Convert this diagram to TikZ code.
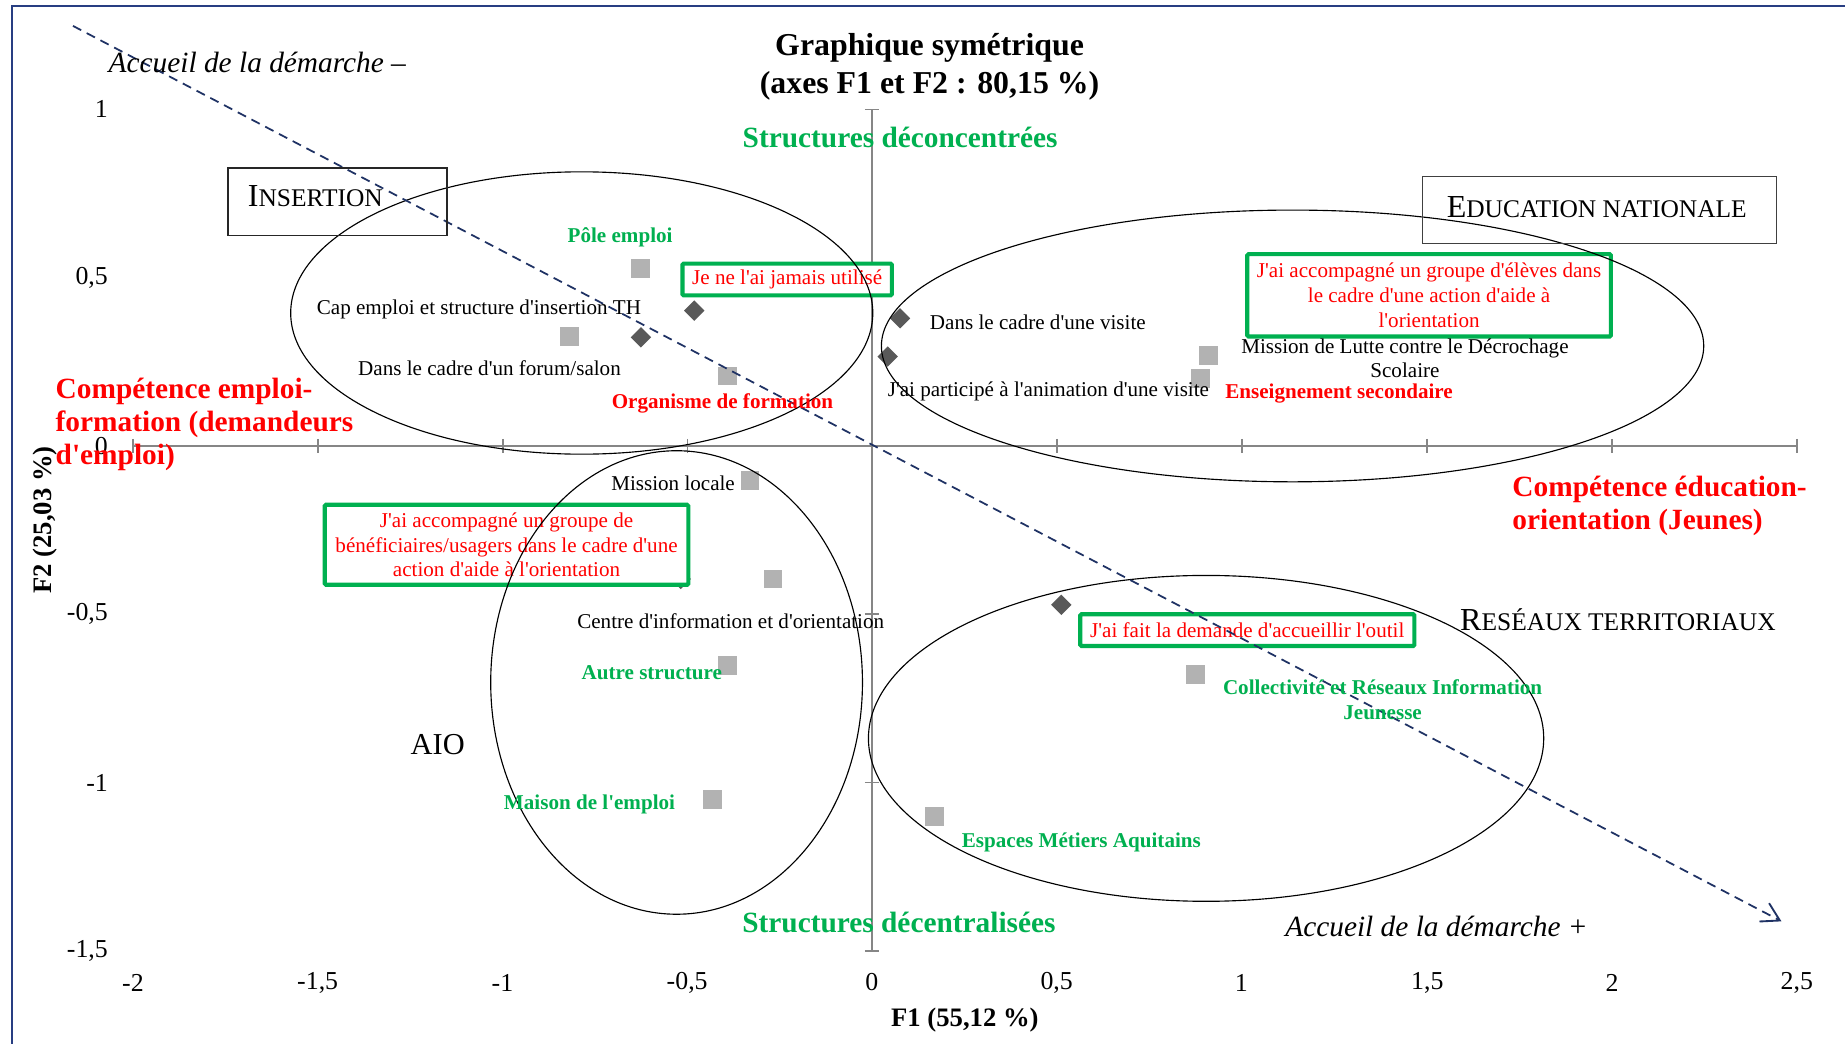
\documentclass[tikz,border=0pt]{standalone}
\usepackage{fontspec}
\setmainfont{Liberation Serif}[Ligatures=TeXOff]
\usetikzlibrary{arrows.meta}
\definecolor{xgreen}{RGB}{0,176,80}
\definecolor{xred}{RGB}{255,0,0}
\definecolor{xnavy}{RGB}{31,50,100}
\definecolor{xframe}{RGB}{40,62,130}
\definecolor{xaxis}{RGB}{134,134,134}
\definecolor{xsq}{RGB}{178,178,178}
\definecolor{xdia}{RGB}{89,89,89}
\newcommand\lblfont{\fontsize{10.2}{11.9}\selectfont}
\newcommand\bigfont{\fontsize{14.2}{15.9}\selectfont}
\newcommand\tickfont{\fontsize{12.5}{14}\selectfont}
\newcommand\capA{\fontsize{15.5}{18}\selectfont}
\newcommand\capB{\fontsize{12.3}{15}\selectfont}
\begin{document}
\begin{tikzpicture}[x=0.02cm,y=-0.02cm,
  axisline/.style={draw=xaxis,line width=0.85pt},
  ell/.style={draw=black,line width=0.55pt},
  sq/.style={rectangle,fill=xsq,minimum size=0.32cm,inner sep=0pt},
  dia/.style={rectangle,fill=xdia,rotate=45,minimum size=0.245cm,inner sep=0pt},
  blk/.style={font=\lblfont,text=black,inner sep=0pt,align=center},
  grn/.style={font=\lblfont\bfseries,text=xgreen,inner sep=0pt,align=center},
  rdl/.style={font=\lblfont\bfseries,text=xred,inner sep=0pt,align=center},
  gbox/.style={draw=xgreen,fill=white,line width=2pt,rounded corners=0.6pt,inner sep=0pt,
     font=\lblfont,text=xred,align=center},
  kbox/.style={draw=black!85,line width=0.8pt,inner sep=0pt},
  tick/.style={font=\tickfont,inner sep=0pt},
  axtitle/.style={font=\fontsize{12.9}{15}\selectfont\bfseries,inner sep=0pt},
  trend/.style={draw=xnavy,line width=0.85pt,dash pattern=on 4.5pt off 3pt,
     -{Straight Barb[length=8.5pt,width=10pt,line width=0.9pt]}}
]
\useasboundingbox (0,0) rectangle (1568,887);
\fill[white] (0,0) rectangle (1568,887);
% frame
\draw[xframe,line width=0.9pt] (10,887) -- (10,5) -- (1568,5);

% axes
\draw[axisline] (113,379) -- (1527,379);
\foreach \i in {0,...,9} \draw[axisline] ({113+157.11*\i},373) -- ({113+157.11*\i},385);
\draw[axisline] (741,93) -- (741,808);
\foreach \j in {0,...,5} \draw[axisline] (735,{93+143*\j}) -- (747,{93+143*\j});

% tick labels
\node[tick,anchor=east] (y1) at (92,93) {1};
\node[tick,anchor=east] (y05) at (92,236) {0,5};
\node[tick,anchor=east] (y0) at (92,379) {0};
\node[tick,anchor=east] (ym05) at (92,522) {-0,5};
\node[tick,anchor=east] (ym1) at (92,665) {-1};
\node[tick,anchor=east] (ym15) at (92,808) {-1,5};
\node[tick] (xm2) at (113,835) {-2};
\node[tick] (xm15) at (270,835) {-1,5};
\node[tick] (xm1) at (427,835) {-1};
\node[tick] (xm05) at (584,835) {-0,5};
\node[tick] (x0) at (741,835) {0};
\node[tick] (x05) at (898,835) {0,5};
\node[tick] (x1) at (1055,835) {1};
\node[tick] (x15) at (1213,835) {1,5};
\node[tick] (x2) at (1370,835) {2};
\node[tick] (x25) at (1527,835) {2,5};

% axis titles
\node[axtitle] (f1) at (820,867) {F1 (55,12 \%)};
\node[axtitle,rotate=90] (f2) at (38,442) {F2 (25,03 \%)};

% title
\node[font=\fontsize{15.4}{18.2}\selectfont\bfseries,align=center,inner sep=0pt] (title) at (790,57)
  {Graphique symétrique\\(axes F1 et F2 : 80,15 \%)};

% markers: structures (squares)
\node[sq] (pPole) at (544,228) {};
\node[sq] (pCap) at (483.8,286) {};
\node[sq] (pOrg) at (618.4,319.5) {};
\node[sq] (pMiss) at (637.4,408.5) {};
\node[sq] (pCio) at (657,492) {};
\node[sq] (pAutre) at (618.4,565.4) {};
\node[sq] (pMais) at (605.6,679.3) {};
\node[sq] (pEsp) at (794,694) {};
\node[sq] (pColl) at (1016,573) {};
\node[sq] (pMlds) at (1027,302) {};
\node[sq] (pEns) at (1020,322) {};
% markers: modalities (diamonds)
\node[dia] (dJamais) at (590,264) {};
\node[dia] (dForum) at (544.7,286.7) {};
\node[dia] (dVisite) at (764.9,270.5) {};
\node[dia] (dAnim) at (754.4,303) {};
\node[dia] (dBenef) at (578.5,492) {};
\node[dia] (dDemande) at (902,514) {};

% green response boxes
\node[gbox,minimum width=3.56cm,minimum height=0.54cm] (bJamais) at (669,237.5) {Je ne l'ai jamais utilisé};
\node[gbox,minimum width=6.18cm,minimum height=1.4cm] (bEleves) at (1214.5,251)
  {J'ai accompagné un groupe d'élèves dans\\le cadre d'une action d'aide à\\l'orientation};
\node[gbox,minimum width=6.18cm,minimum height=1.36cm] (bBenef) at (430.5,463)
  {J'ai accompagné un groupe de\\bénéficiaires/usagers dans le cadre d'une\\action d'aide à l'orientation};
\node[gbox,minimum width=5.68cm,minimum height=0.54cm] (bDemande) at (1060,535.5) {J'ai fait la demande d'accueillir l'outil};

% ellipses
\draw[ell] (494.4,266) ellipse [x radius=4.948cm, y radius=2.4cm];
\draw[ell] (1098.5,294) ellipse [x radius=6.99cm, y radius=2.31cm];
\draw[ell] (575,580) ellipse [x radius=3.16cm, y radius=3.94cm];
\draw[ell] (1025,627.5) ellipse [x radius=5.74cm, y radius=2.77cm];

% trend arrow
\coordinate (as) at (62,22);
\coordinate (ae) at (1514,783);
\draw[trend] (as) -- (ae);
\node[font=\bigfont\itshape,anchor=west,inner sep=0pt] (accm) at (92,53) {Accueil de la démarche –};
\node[font=\bigfont\itshape,anchor=west,inner sep=0pt] (accp) at (1092,787) {Accueil de la démarche +};

% big category labels
\node[font=\bigfont\bfseries,text=xgreen,inner sep=0pt] (deconc) at (765,117) {Structures déconcentrées};
\node[font=\bigfont\bfseries,text=xgreen,inner sep=0pt] (decent) at (764,784) {Structures décentralisées};
\node[font=\bigfont\bfseries,text=xred,align=left,anchor=west,inner sep=0pt] (compE) at (47,361)
  {Compétence emploi-\\formation (demandeurs\\d'emploi)};
\node[font=\bigfont\bfseries,text=xred,align=left,anchor=west,inner sep=0pt] (compJ) at (1285,430)
  {Compétence éducation-\\orientation (Jeunes)};

% group boxes
\node[kbox,minimum width=3.72cm,minimum height=1.14cm] (insbox) at (287,171.5) {};
\node[inner sep=0pt] (ins) at (268,167) {\capA I\capB NSERTION};
\node[kbox,draw=black!75,line width=0.6pt,minimum width=6.02cm,minimum height=1.14cm] (edbox) at (1359.5,178.5) {};
\node[inner sep=0pt] (ed) at (1357,176) {\capA E\capB DUCATION NATIONALE};
\node[inner sep=0pt] (res) at (1375,527) {\capA R\capB ESÉAUX TERRITORIAUX};
\node[inner sep=0pt,font=\fontsize{14.7}{17}\selectfont] (aio) at (372,633) {AIO};

% point labels
\node[grn] (lPole) at (527,202) {Pôle emploi};
\node[blk] (lCap) at (407,263) {Cap emploi et structure d'insertion TH};
\node[blk] (lForum) at (416,313) {Dans le cadre d'un forum/salon};
\node[rdl] (lOrg) at (614,343) {Organisme de formation};
\node[blk] (lVisite) at (882,274) {Dans le cadre d'une visite};
\node[blk] (lAnim) at (891,333) {J'ai participé à l'animation d'une visite};
\node[blk] (lMlds) at (1194,304.5) {Mission de Lutte contre le Décrochage\\Scolaire};
\node[rdl] (lEns) at (1138,334) {Enseignement secondaire};
\node[blk] (lMiss) at (572,411) {Mission locale};
\node[blk] (lCio) at (621,528) {Centre d'information et d'orientation};
\node[grn] (lAutre) at (554,572) {Autre structure};
\node[grn] (lMais) at (501,684) {Maison de l'emploi};
\node[grn] (lEsp) at (919,716) {Espaces Métiers Aquitains};
\node[grn] (lColl) at (1175,594.5) {Collectivité et Réseaux Information\\Jeunesse};
\end{tikzpicture}
\end{document}
